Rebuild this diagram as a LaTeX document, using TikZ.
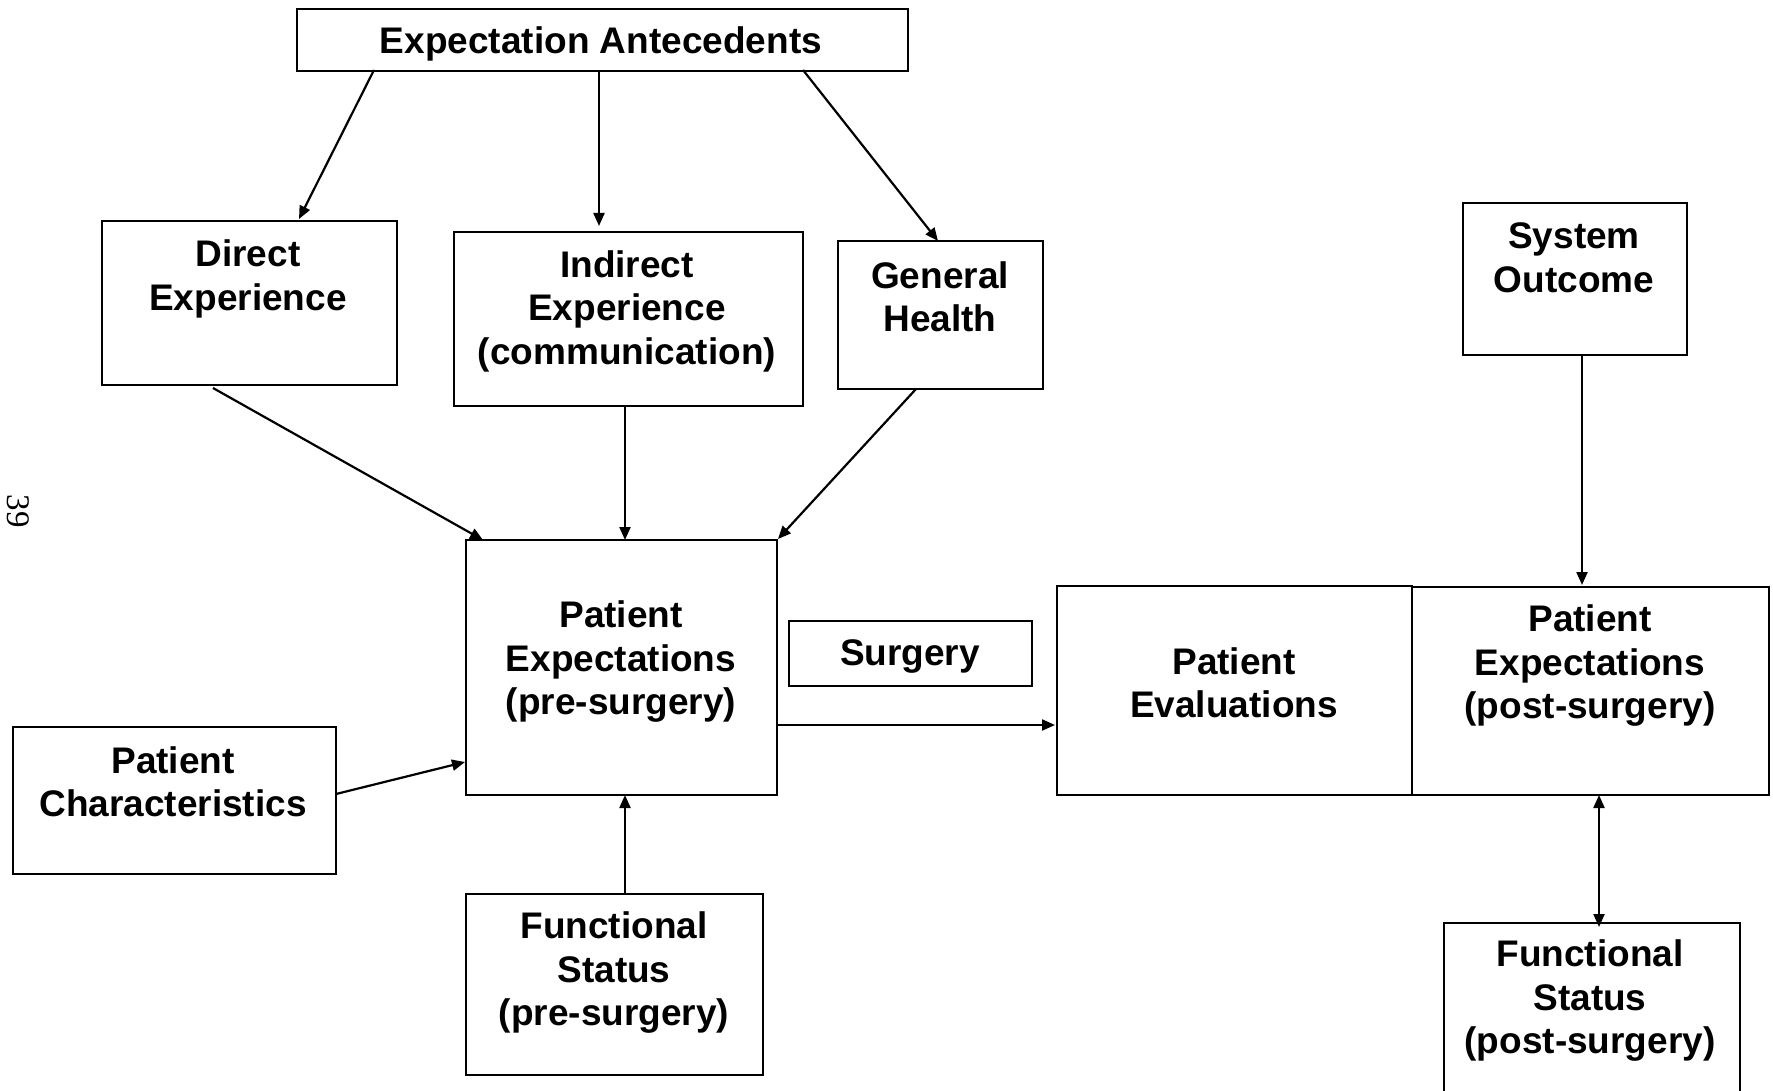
\documentclass[tikz,border=0pt]{standalone}
\usepackage{fontspec}
\setmainfont{Liberation Sans}
\newfontfamily\pgfont{Liberation Serif}
\usetikzlibrary{arrows.meta}
\begin{document}
\begin{tikzpicture}[x=1pt,y=-1pt,
  box/.style={draw,line width=2pt,inner sep=0pt,anchor=north west},
  txt/.style={align=center,font=\fontsize{37}{43.5}\selectfont\bfseries,inner sep=0pt},
  arr/.style={line width=2.2pt,-{Triangle[length=13pt,width=11pt]}},
  darr/.style={line width=2.2pt,{Triangle[length=13pt,width=11pt]}-{Triangle[length=13pt,width=11pt]}}]
\useasboundingbox[fill=white] (0,0) rectangle (1773,1091);
% boxes
\node[box,minimum width=611pt,minimum height=62pt] (ea) at (296,8) {};
\node[box,minimum width=295pt,minimum height=164pt] (de) at (101,220) {};
\node[box,minimum width=349pt,minimum height=174pt] (ie) at (453,231) {};
\node[box,minimum width=205pt,minimum height=148pt] (gh) at (837,240) {};
\node[box,minimum width=224pt,minimum height=152pt] (so) at (1462,202) {};
\node[box,minimum width=311pt,minimum height=255pt] (pe) at (465,539) {};
\node[box,minimum width=243pt,minimum height=65pt] (su) at (788,620) {};
\node[box,minimum width=355pt,minimum height=209pt] (ev) at (1056,585) {};
\node[box,minimum width=357pt,minimum height=208pt] (pp) at (1411,586) {};
\node[box,minimum width=323pt,minimum height=147pt] (pc) at (12,726) {};
\node[box,minimum width=297pt,minimum height=181pt] (fs) at (465,893) {};
\node[box,minimum width=296pt,minimum height=200pt] (fp) at (1443,922) {};
% texts
\node[txt] (ea-t) at (601,44) {Expectation Antecedents};
\node[txt] (de-t) at (248,279) {Direct\\Experience};
\node[txt] (ie-t) at (627,311) {Indirect\\Experience\\(communication)};
\node[txt] (gh-t) at (940,297) {General\\Health};
\node[txt] (so-t) at (1574,258) {System\\Outcome};
\node[txt] (pe-t) at (621,662) {Patient\\Expectations\\(pre-surgery)};
\node[txt] (su-t) at (910,657) {Surgery};
\node[txt] (ev-t) at (1234,683) {Patient\\Evaluations};
\node[txt] (pp-t) at (1590,666) {Patient\\Expectations\\(post-surgery)};
\node[txt] (pc-t) at (173,782) {Patient\\Characteristics};
\node[txt] (fs-t) at (614,973) {Functional\\Status\\(pre-surgery)};
\node[txt] (fp-t) at (1590,1001) {Functional\\Status\\(post-surgery)};
\node[font=\fontsize{33}{36}\selectfont\pgfont,rotate=-90,inner sep=0pt] (pg) at (18,511) {39};
% connectors
\draw[arr] (374,70) -- (299,219);
\draw[arr] (ea.south -| 599,0) -- (599,226);
\draw[arr] (803,70) -- (938,241);
\draw[arr] (213,388) -- (483,540);
\draw[arr] (ie.south -| 625,0) -- (625,540);
\draw[arr] (916,389) -- (778,539);
\draw[arr] (336,794) -- (465,762);
\draw[arr] (fs.north -| 625,0) -- (625,795);
\draw[arr] (776,725) -- (1055,725);
\draw[arr] (so.south -| 1582,0) -- (1582,585);
\draw[darr] (1599,795) -- (1599,927);
\end{tikzpicture}
\end{document}
